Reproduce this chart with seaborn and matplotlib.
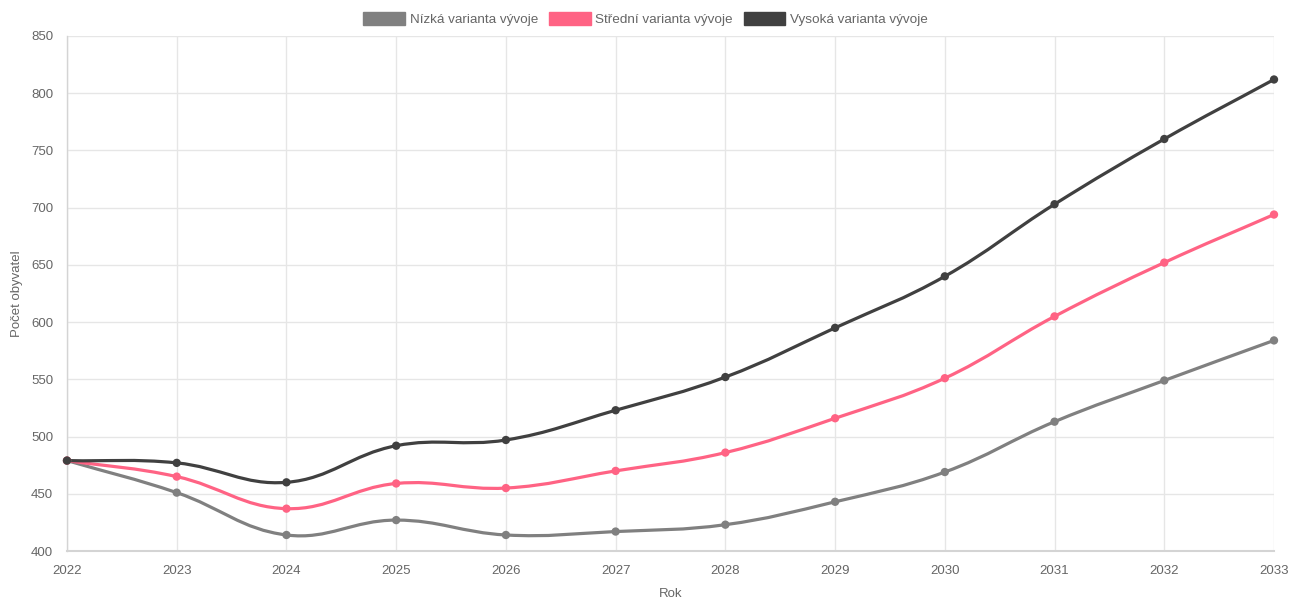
import matplotlib.pyplot as plt
import seaborn as sns
import numpy as np
import pandas as pd
from matplotlib.path import Path
from matplotlib.patches import PathPatch, Patch

sns.set_style("white")
plt.rcParams['font.family'] = ['Liberation Sans', 'DejaVu Sans']

# Data
years = [2022, 2023, 2024, 2025, 2026, 2027, 2028, 2029, 2030, 2031, 2032, 2033]
low = [479, 451, 414, 427, 414, 417, 423, 443, 469, 513, 549, 584]
mid = [479, 465, 437, 459, 455, 470, 486, 516, 551, 605, 652, 694]
high = [479, 477, 460, 492, 497, 523, 552, 595, 640, 703, 760, 812]

series_names = ['Nízká varianta vývoje', 'Střední varianta vývoje', 'Vysoká varianta vývoje']
colors = ['#808080', '#ff6384', '#404040']

df = pd.DataFrame({'Rok': years, series_names[0]: low, series_names[1]: mid, series_names[2]: high})
long_df = df.melt(id_vars='Rok', var_name='varianta', value_name='pocet')

fig = plt.figure(figsize=(12.91, 6), dpi=100)
ax = fig.add_axes([67 / 1291, 49 / 600, 1207 / 1291, 515 / 600])
ax.set_xlim(2022, 2033)
ax.set_ylim(400, 850)


def smooth_path(xs, ys, tension=0.4):
    # Chart.js-like bezier spline, computed in screen coordinates
    pts = ax.transData.transform(np.column_stack([xs, ys]))
    n = len(pts)
    verts = [pts[0]]
    codes = [Path.MOVETO]
    cps = []
    for i in range(n):
        prev = pts[i - 1] if i > 0 else pts[i]
        cur = pts[i]
        nxt = pts[i + 1] if i < n - 1 else pts[i]
        d01 = np.hypot(*(cur - prev))
        d12 = np.hypot(*(nxt - cur))
        tot = d01 + d12
        s01 = d01 / tot if tot else 0
        s12 = d12 / tot if tot else 0
        fa, fb = tension * s01, tension * s12
        cps.append((cur - fa * (nxt - prev), cur + fb * (nxt - prev)))
    for i in range(1, n):
        verts += [cps[i - 1][1], cps[i][0], pts[i]]
        codes += [Path.CURVE4] * 3
    verts = ax.transData.inverted().transform(np.array(verts))
    return Path(verts, codes)


for name, color in zip(series_names, colors):
    sub = long_df[long_df['varianta'] == name]
    ax.add_patch(PathPatch(smooth_path(sub['Rok'].values, sub['pocet'].values),
                           facecolor='none', edgecolor=color, lw=2.3, zorder=3))

sns.scatterplot(data=long_df, x='Rok', y='pocet', hue='varianta', palette=colors,
                s=36, edgecolor='none', legend=False, ax=ax, zorder=4, clip_on=False)

ax.set_xlim(2022, 2033)
ax.set_ylim(400, 850)
ax.set_xticks(years)
ax.set_yticks(range(400, 851, 50))
ax.grid(True, color='#e6e6e6', lw=1)
for s in ['top', 'right']:
    ax.spines[s].set_visible(False)
ax.spines['left'].set_color('#d4d4d4')
ax.spines['bottom'].set_color('#d4d4d4')
ax.spines['left'].set_linewidth(1)
ax.spines['bottom'].set_linewidth(1.5)
ax.tick_params(axis='both', length=7, color='#e6e6e6', labelsize=9.5,
               labelcolor='#666666', pad=3)
ax.set_xlabel('Rok', fontsize=9.5, color='#666666', labelpad=8)
ax.set_ylabel('Počet obyvatel', fontsize=9.5, color='#666666', labelpad=6)

handles = [Patch(facecolor=c, edgecolor=c, label=n) for n, c in zip(series_names, colors)]
fig.legend(handles=handles, loc='upper center', bbox_to_anchor=(0.5, 1.0), ncol=3,
           frameon=False, fontsize=9.7, handlelength=3.1, handleheight=1.1,
           handletextpad=0.35, columnspacing=0.8, labelcolor='#666666')

plt.savefig('out.png', dpi=100)
